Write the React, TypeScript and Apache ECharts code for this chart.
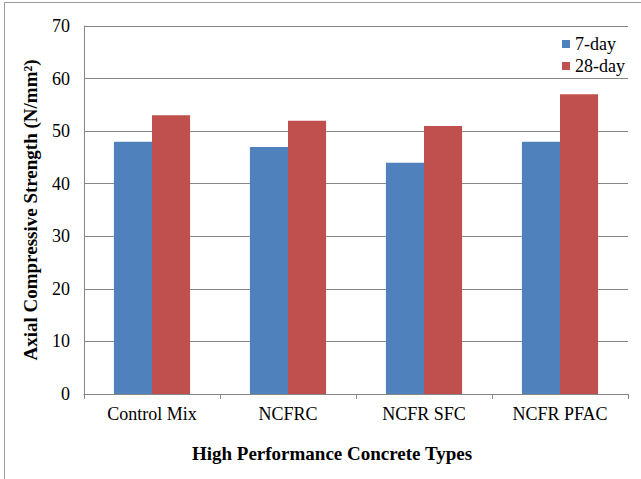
import React, { useEffect, useRef } from "react";
import * as echarts from "echarts";

const categories = ["Control Mix", "NCFRC", "NCFR SFC", "NCFR PFAC"];
const day7 = [48, 47, 44, 48];
const day28 = [53, 52, 51, 57];
const seriesNames = ["7-day", "28-day"];
const xTitle = "High Performance Concrete Types";
const yTitle = "Axial Compressive Strength (N/mm²)";

const FONT = "Liberation Serif";

export default function App() {
  const ref = useRef<HTMLDivElement>(null);

  useEffect(() => {
    if (!ref.current) return;
    const chart = echarts.init(ref.current, undefined, { renderer: "svg" });
    chart.setOption({
      animation: false,
      backgroundColor: "#ffffff",
      textStyle: { fontFamily: FONT },
      grid: { left: 84, right: 13, top: 26, bottom: 85, containLabel: false },
      legend: {
        orient: "vertical",
        left: 557,
        top: 30,
        itemWidth: 8,
        itemHeight: 8,
        itemGap: 4,
        icon: "rect",
        textStyle: { fontFamily: FONT, fontSize: 18, color: "#000" },
        data: seriesNames,
      },
      xAxis: {
        type: "category",
        data: categories,
        axisLine: { lineStyle: { color: "#868686", width: 1 } },
        axisTick: { show: true, length: 5, lineStyle: { color: "#868686" } },
        axisLabel: { fontFamily: FONT, fontSize: 18, color: "#000", margin: 11 },
      },
      yAxis: {
        type: "value",
        min: 0,
        max: 70,
        interval: 10,
        name: yTitle,
        nameLocation: "middle",
        nameGap: 44,
        nameTextStyle: { fontFamily: FONT, fontSize: 19, fontWeight: "bold", color: "#000" },
        axisLine: { show: true, lineStyle: { color: "#868686", width: 1 } },
        axisTick: { show: false },
        axisLabel: { fontFamily: FONT, fontSize: 18, color: "#000", margin: 14 },
        splitLine: { lineStyle: { color: "#868686", width: 1 } },
      },
      series: [
        {
          name: seriesNames[0],
          type: "bar",
          data: day7,
          itemStyle: { color: "#4F81BD" },
          barWidth: "28%",
          barGap: "0%",
          barCategoryGap: "44%",
        },
        {
          name: seriesNames[1],
          type: "bar",
          data: day28,
          itemStyle: { color: "#C0504D" },
          barWidth: "28%",
          barGap: "0%",
          barCategoryGap: "44%",
        },
      ],
      graphic: [
        {
          type: "text",
          x: 332,
          y: 453,
          style: {
            text: xTitle,
            font: `bold 19px ${FONT}`,
            fill: "#000",
            align: "center",
            verticalAlign: "middle",
          },
        },
        {
          type: "line",
          shape: { x1: 4.5, y1: 2.5, x2: 641, y2: 2.5 },
          style: { stroke: "#9a9a9a", lineWidth: 1 },
        },
        {
          type: "line",
          shape: { x1: 4.5, y1: 2.5, x2: 4.5, y2: 479 },
          style: { stroke: "#9a9a9a", lineWidth: 1 },
        },
      ],
    });
    return () => chart.dispose();
  }, []);

  return (
    <div
      ref={ref}
      style={{ position: "fixed", left: 0, top: 0, width: 641, height: 479 }}
    />
  );
}
